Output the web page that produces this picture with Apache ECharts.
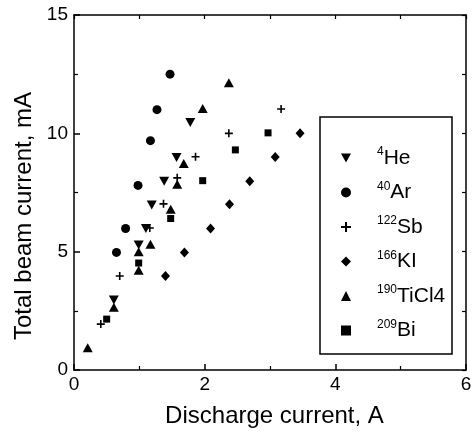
<!DOCTYPE html>
<html>
<head>
<meta charset="utf-8">
<script src="https://cdn.jsdelivr.net/npm/echarts@6/dist/echarts.min.js"></script>
<style>
html,body{margin:0;padding:0;background:#fff;}
#chart{width:472px;height:439px;}
</style>
</head>
<body>
<div id="chart"></div>
<script>
// Data (x: discharge current A, y: total beam current mA)
var seriesNames = ['He', 'Ar', 'Sb', 'KI', 'TiCl4', 'Bi'];
var massNumbers = ['4', '40', '122', '166', '190', '209'];
var dataHe = [[0.61, 2.96], [0.99, 5.28], [1.10, 5.98], [1.19, 6.97], [1.38, 7.98], [1.57, 8.98], [1.78, 10.46]];
var dataAr = [[0.65, 4.97], [0.79, 5.98], [0.98, 7.8], [1.17, 9.69], [1.27, 11.0], [1.47, 12.5]];
var dataSb = [[0.41, 1.94], [0.70, 3.97], [1.16, 6.0], [1.37, 7.02], [1.58, 8.12], [1.86, 9.01], [2.37, 10.0], [3.17, 11.03]];
var dataKI = [[1.40, 3.97], [1.69, 4.97], [2.09, 5.98], [2.38, 7.0], [2.69, 7.98], [3.08, 9.0], [3.46, 10.0]];
var dataTiCl4 = [[0.21, 0.94], [0.61, 2.65], [0.99, 4.22], [0.99, 5.0], [1.17, 5.31], [1.48, 6.79], [1.58, 7.85], [1.68, 8.73], [1.97, 11.05], [2.37, 12.14]];
var dataBi = [[0.50, 2.15], [0.99, 4.52], [1.48, 6.4], [1.97, 8.0], [2.47, 9.3], [2.97, 10.02]];
var xTicks = [0, 2, 4, 6];
var yTicks = [0, 5, 10, 15];

var plusPath = 'path://M4,0H6V4H10V6H6V10H4V6H0V4H4Z';
var downTriPath = 'path://M0,0L10,0L5,9Z';
var font = 'Liberation Sans, Arial, Helvetica, sans-serif';

var chart = echarts.init(document.getElementById('chart'), null, {renderer: 'canvas'});

function mkSeries(name, data, symbol, size) {
  return {
    name: name,
    type: 'scatter',
    data: data,
    symbol: symbol,
    symbolSize: size,
    itemStyle: {color: '#000', opacity: 1},
    emphasis: {disabled: true},
    xAxisIndex: 0,
    yAxisIndex: 0
  };
}

var axisLineStyle = {color: '#000', width: 1.5};

var option = {
  animation: false,
  backgroundColor: '#fff',
  grid: {left: 74, right: 6, top: 15, bottom: 69, outerBoundsMode: 'none', containLabel: false},
  xAxis: [{
    type: 'value', position: 'bottom',
    min: xTicks[0], max: xTicks[xTicks.length - 1], interval: 2,
    name: 'Discharge current, A', nameLocation: 'middle', nameGap: 34,
    nameTextStyle: {fontFamily: font, fontSize: 24, color: '#000', padding: [0, 0, 0, 9]},
    axisLine: {show: true, onZero: false, lineStyle: axisLineStyle},
    axisTick: {show: true, inside: true, length: 6, lineStyle: axisLineStyle},
    minorTick: {show: true, splitNumber: 2, length: 4, lineStyle: {color: '#000', width: 1.2}},
    axisLabel: {fontFamily: font, fontSize: 19, color: '#000', margin: 5},
    splitLine: {show: false}
  }, {
    type: 'value', position: 'top',
    min: xTicks[0], max: xTicks[xTicks.length - 1], interval: 1,
    axisLine: {show: true, onZero: false, lineStyle: axisLineStyle},
    axisTick: {show: true, inside: true, length: 4, lineStyle: {color: '#000', width: 1.2}},
    axisLabel: {show: false},
    splitLine: {show: false}
  }],
  yAxis: [{
    type: 'value', position: 'left',
    min: yTicks[0], max: yTicks[yTicks.length - 1], interval: 5,
    name: 'Total beam current, mA', nameLocation: 'middle', nameGap: 33, nameRotate: 90,
    nameTextStyle: {fontFamily: font, fontSize: 24, color: '#000', padding: [0, 47, 0, 0]},
    axisLine: {show: true, onZero: false, lineStyle: axisLineStyle},
    axisTick: {show: true, inside: true, length: 6, lineStyle: axisLineStyle},
    minorTick: {show: true, splitNumber: 2, length: 4, lineStyle: {color: '#000', width: 1.2}},
    axisLabel: {fontFamily: font, fontSize: 19, color: '#000', margin: 6},
    splitLine: {show: false}
  }, {
    type: 'value', position: 'right',
    min: yTicks[0], max: yTicks[yTicks.length - 1], interval: 2.5,
    axisLine: {show: true, onZero: false, lineStyle: axisLineStyle},
    axisTick: {show: true, inside: true, length: 4, lineStyle: {color: '#000', width: 1.2}},
    axisLabel: {show: false},
    splitLine: {show: false}
  }],
  legend: {
    orient: 'vertical',
    left: 320, top: 117,
    padding: [29, 0, 0, 21],
    itemGap: 12,
    itemWidth: 10, itemHeight: 10,
    selectedMode: false,
    data: seriesNames,
    formatter: function (name) {
      var i = seriesNames.indexOf(name);
      return '{s|' + massNumbers[i] + '}{m|' + name + '}';
    },
    textStyle: {
      color: '#000',
      rich: {
        s: {fontFamily: font, fontSize: 12, lineHeight: 18, verticalAlign: 'top', color: '#000', padding: [0, 0, 0, 21]},
        m: {fontFamily: font, fontSize: 21, lineHeight: 24, color: '#000'}
      }
    }
  },
  graphic: [{
    type: 'rect',
    shape: {x: 320, y: 117, width: 132, height: 237},
    style: {fill: 'none', stroke: '#000', lineWidth: 1.5},
    silent: true, z: 100
  }],
  series: [
    mkSeries('He', dataHe, downTriPath, [10, 9]),
    mkSeries('Ar', dataAr, 'circle', 9),
    mkSeries('Sb', dataSb, plusPath, 8),
    mkSeries('KI', dataKI, 'diamond', [9, 10]),
    mkSeries('TiCl4', dataTiCl4, 'triangle', [10, 9]),
    mkSeries('Bi', dataBi, 'rect', 7)
  ]
};
chart.setOption(option);
</script>
</body>
</html>
